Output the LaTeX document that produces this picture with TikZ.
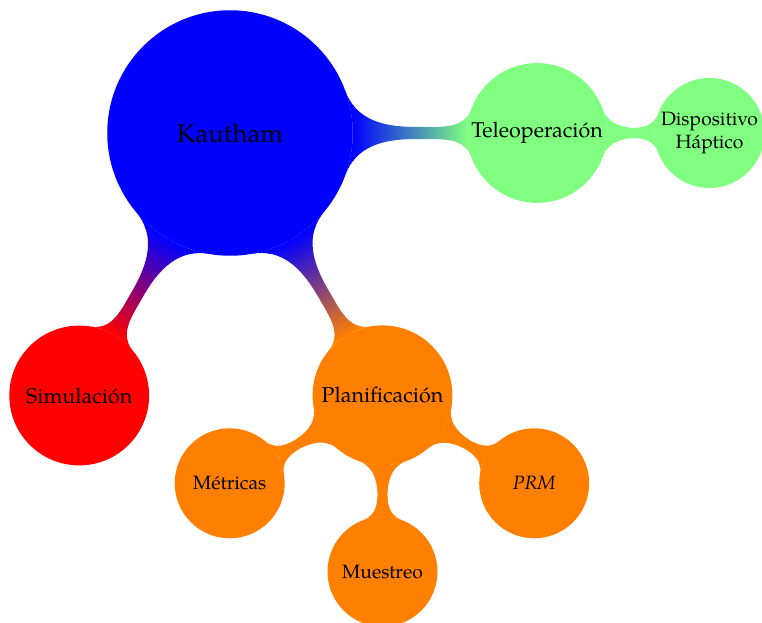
\documentclass[tikz,border=0pt]{standalone}
\usepackage{fontspec}
\setmainfont{TeX Gyre Pagella}
\usetikzlibrary{mindmap,backgrounds}
\definecolor{lgreen}{RGB}{128,255,128}
\definecolor{orng}{RGB}{255,128,0}
\tikzset{
  cbase/.style={circle, inner sep=0pt, align=center, text=black, line width=0.7pt},
  fc/.style={fill=#1, draw=#1},
  rootc/.style={cbase, fc=blue, minimum size=113.8pt, font=\large},
  lvlone/.style={cbase, minimum size=64.5pt, font=\normalsize},
  lvltwo/.style={cbase, minimum size=50.6pt, font=\small},
}
\begin{document}
\begin{tikzpicture}[x=0.4664pt, y=-0.4664pt]
\useasboundingbox (0,0) rectangle (762,623);
% nodes
\node[rootc] (K) at (230,133) {Kautham};
\node[lvlone, fc=lgreen] (T) at (537,133) {Teleoperación};
\node[lvltwo, fc=lgreen] (D) at (709.5,133) {Dispositivo\\Háptico};
\node[lvlone, fc=red] (S) at (79.2,395.5) {Simulación};
\node[lvlone, fc=orng] (P) at (382.5,395.3) {Planificación};
\node[lvltwo, fc=orng] (M) at (229.7,483.3) {Métricas};
\node[lvltwo, fc=orng] (U) at (382.5,571.6) {Muestreo};
\node[lvltwo, fc=orng] (R) at (534.2,483.3) {\itshape PRM};
% connections
\begin{pgfonlayer}{background}
\path[line width=5.7pt] (K) to[circle connection bar switch color=from (blue) to (lgreen)] (T);
\path[line width=5pt] (K) to[circle connection bar switch color=from (blue) to (red)] (S);
\path[line width=5pt] (K) to[circle connection bar switch color=from (blue) to (orng)] (P);
\path[line width=5.2pt] (T) to[circle connection bar switch color=from (lgreen) to (lgreen)] (D);
\path[line width=4.8pt] (P) to[circle connection bar switch color=from (orng) to (orng)] (M);
\path[line width=4.8pt] (P) to[circle connection bar switch color=from (orng) to (orng)] (U);
\path[line width=4.8pt] (P) to[circle connection bar switch color=from (orng) to (orng)] (R);
\end{pgfonlayer}
\end{tikzpicture}
\end{document}
